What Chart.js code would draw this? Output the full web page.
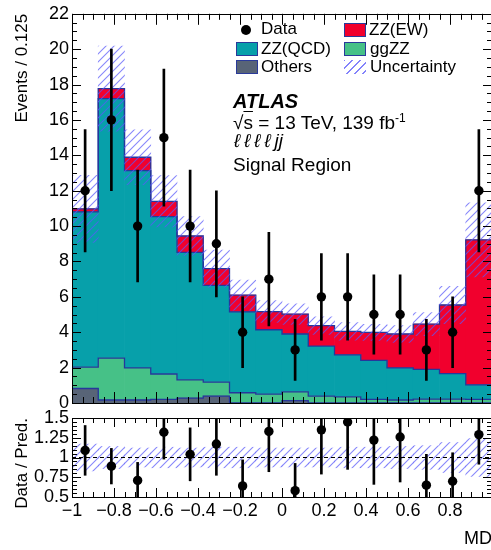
<!DOCTYPE html>
<html><head><meta charset="utf-8">
<script src="https://cdn.jsdelivr.net/npm/chart.js@4.4.1/dist/chart.umd.min.js"></script>
<style>
html,body{margin:0;padding:0;background:#fff;overflow:hidden;width:491px;height:550px;}
#wrap{position:relative;width:491px;height:550px;overflow:hidden;font-family:'Liberation Sans',Arial,Helvetica,sans-serif;color:#000;}
canvas{position:absolute;left:0;}
#c1{top:0;} #c2{top:404px;}
.t{position:absolute;white-space:nowrap;}
.lg{font-size:17px;line-height:19px;}
.box{position:absolute;width:22px;height:14px;border:1px solid #2a3a9a;box-sizing:border-box;}
.txt{font-size:19px;line-height:20px;}
</style></head>
<body><div id="wrap">
<canvas id="c1" width="500" height="420"></canvas>
<canvas id="c2" width="500" height="146"></canvas>

<div class="t" style="left:241px;top:25px;width:10px;height:10px;border-radius:50%;background:#000;"></div>
<div class="t lg" style="left:261px;top:19px;">Data</div>
<div class="box" style="left:236px;top:42px;background:#07a0aa;"></div>
<div class="t lg" style="left:261px;top:39px;">ZZ(QCD)</div>
<div class="box" style="left:236px;top:60px;background:#586477;"></div>
<div class="t lg" style="left:261px;top:57px;">Others</div>
<div class="box" style="left:344px;top:23px;background:#f1002d;"></div>
<div class="t lg" style="left:369px;top:20px;">ZZ(EW)</div>
<div class="box" style="left:344px;top:42px;background:#46c187;"></div>
<div class="t lg" style="left:370px;top:39px;">ggZZ</div>
<div class="t" style="left:344px;top:60px;width:22px;height:14px;background:repeating-linear-gradient(135deg, rgba(90,90,250,0.75) 0 1.2px, transparent 1.2px 5.6px);"></div>
<div class="t lg" style="left:370px;top:57px;">Uncertainty</div>

<div class="t" style="left:233px;top:90px;font-size:20px;line-height:22px;font-weight:bold;font-style:italic;">ATLAS</div>
<div class="t txt" style="left:233px;top:113px;">√<span style="text-decoration:overline">s</span> = 13 TeV, 139 fb<sup style="font-size:12px;vertical-align:7px;line-height:0">-1</sup></div>
<div class="t txt" style="left:234px;top:131px;font-style:italic;letter-spacing:4px;">ℓℓℓℓ<span style="letter-spacing:0">jj</span></div>
<div class="t txt" style="left:233px;top:155px;">Signal Region</div>
</div>
<script>
// ---- data ----
const binEdges   = [-1, -0.875, -0.75, -0.625, -0.5, -0.375, -0.25, -0.125, 0, 0.125, 0.25, 0.375, 0.5, 0.625, 0.75, 0.875, 1];
const binCenters = [-0.9375, -0.8125, -0.6875, -0.5625, -0.4375, -0.3125, -0.1875, -0.0625, 0.0625, 0.1875, 0.3125, 0.4375, 0.5625, 0.6875, 0.8125, 0.9375];
const others = [0.82, 0.17, 0.17, 0.20, 0.28, 0.39, 0, 0, 0.13, 0, 0, 0, 0, 0, 0, 0];
const ggZZ   = [1.21, 2.37, 1.81, 1.44, 1.03, 0.79, 0.58, 0.50, 0.50, 0.39, 0.35, 0.20, 0.17, 0.22, 0.22, 0.20];
const zzQCD  = [8.77, 14.66, 11.16, 8.89, 7.20, 5.47, 4.57, 3.64, 3.27, 2.82, 2.37, 2.21, 1.81, 1.68, 1.44, 0.83];
const zzEW   = [0.17, 0.57, 0.75, 0.87, 0.93, 0.95, 0.95, 1.03, 1.12, 1.16, 1.33, 1.58, 1.92, 2.56, 3.88, 8.19];
const predUnc = [1.9, 2.4, 1.55, 1.45, 1.1, 1.05, 0.85, 0.62, 0.58, 0.5, 0.5, 0.45, 0.48, 0.65, 1.06, 2.1];
const dataVals = [12, 16, 10, 15, 10, 9, 4, 7, 3, 6, 6, 5, 5, 3, 4, 12];
const dataErr  = [3.46, 4, 3.16, 3.87, 3.16, 3, 2, 2.65, 1.73, 2.45, 2.45, 2.24, 2.24, 1.73, 2, 3.46];
const ratioVals = [1.09, 0.89, 0.71, 1.32, 1.04, 1.17, 0.64, 1.33, 0.58, 1.35, 1.45, 1.22, 1.26, 0.65, 0.70, 1.29];
const ratioErr  = [0.315, 0.225, 0.228, 0.34, 0.335, 0.395, 0.33, 0.51, 0.345, 0.56, 0.60, 0.56, 0.57, 0.39, 0.36, 0.375];
const ratioUnc  = [0.17, 0.14, 0.12, 0.13, 0.12, 0.13, 0.13, 0.12, 0.12, 0.12, 0.13, 0.13, 0.14, 0.15, 0.19, 0.24];
const yTicksMain = {min: 0, max: 22, step: 2};
const yTicksRatio = {min: 0.5, max: 1.5, step: 0.25};
const xTicks = {min: -1, max: 1, step: 0.2};

// ---- styles ----
const COL = {others:'#586477', gg:'#46c187', qcd:'#07a0aa', ew:'#f1002d', edge:'#26379c'};
Chart.defaults.font.family = "'Liberation Sans', Arial, Helvetica, sans-serif";
Chart.defaults.color = '#000';

function hatch(){
  const c = document.createElement('canvas'); c.width = 8; c.height = 8;
  const g = c.getContext('2d');
  g.strokeStyle = 'rgba(90,90,250,0.72)'; g.lineWidth = 1.1;
  g.beginPath();
  g.moveTo(0,8); g.lineTo(8,0);
  g.moveTo(-2,2); g.lineTo(2,-2);
  g.moveTo(6,10); g.lineTo(10,6);
  g.stroke();
  return g.createPattern(c, 'repeat');
}
const HATCH = hatch();

const frameTicks = {
  id: 'frameTicks',
  afterDatasetsDraw(chart, args, o) {
    const {ctx, chartArea: a} = chart;
    const xs = chart.scales.x, ys = chart.scales.y;
    ctx.save();
    ctx.strokeStyle = '#000'; ctx.lineWidth = 1;
    ctx.beginPath();
    let n = Math.round((xs.max - xs.min) / o.xMinor);
    for (let i = 0; i <= n; i++) {
      const v = xs.min + i * o.xMinor;
      const r = (v - xs.min) / o.xMajor;
      const L = Math.abs(r - Math.round(r)) < 1e-6 ? o.xMajLen : o.xMinLen;
      const px = Math.round(xs.getPixelForValue(v)) + 0.5;
      ctx.moveTo(px, a.bottom); ctx.lineTo(px, a.bottom - L);
      ctx.moveTo(px, a.top); ctx.lineTo(px, a.top + L);
    }
    n = Math.round((ys.max - ys.min) / o.yMinor);
    for (let i = 0; i <= n; i++) {
      const v = ys.min + i * o.yMinor;
      const r = (v - ys.min) / o.yMajor;
      const L = Math.abs(r - Math.round(r)) < 1e-6 ? o.yMajLen : o.yMinLen;
      const py = Math.round(ys.getPixelForValue(v)) + 0.5;
      ctx.moveTo(a.left, py); ctx.lineTo(a.left + L, py);
      ctx.moveTo(a.right, py); ctx.lineTo(a.right - L, py);
    }
    ctx.stroke();
    ctx.strokeRect(Math.round(a.left) + 0.5, Math.round(a.top) + 0.5, Math.round(a.right - a.left), Math.round(a.bottom - a.top));
    ctx.restore();
  }
};

function fmtX(v){
  if (Math.abs(v - 1) < 1e-9) return '';
  const s = String(Number(Math.abs(v).toFixed(2)));
  return v < -1e-9 ? '\u2212' + s : s;
}
function fmtY(v){ return String(Number(Number(v).toFixed(2))); }

// ---- derived tables ----
const cum1 = others.slice();
const cum2 = cum1.map((v,i)=>v + ggZZ[i]);
const cum3 = cum2.map((v,i)=>v + zzQCD[i]);
const cum4 = cum3.map((v,i)=>v + zzEW[i]);
function stepPts(vals){
  const p = vals.map((v,i)=>({x: binEdges[i], y: v}));
  p.push({x: binEdges[binEdges.length-1], y: vals[vals.length-1]});
  return p;
}
function barPts(vals){ return binCenters.map((c,i)=>({x: c, y: vals[i]})); }
function rangePts(mid, err){ return binCenters.map((c,i)=>({x: c, y: [mid[i] - err[i], mid[i] + err[i]]})); }

const stackBar = (label, vals, color, order) => ({
  type: 'bar', label, data: barPts(vals), backgroundColor: color, borderWidth: 0,
  yAxisID: 'y', stack: 'mc', grouped: false, categoryPercentage: 1, barPercentage: 1, order
});
const outline = (vals) => ({
  type: 'line', data: stepPts(vals), stepped: 'before', borderColor: COL.edge, borderWidth: 1.3,
  pointRadius: 0, fill: false, yAxisID: 'yAux', order: 5
});

new Chart(document.getElementById('c1'), {
  type: 'bar',
  data: { datasets: [
    stackBar('Others', others, COL.others, 10),
    stackBar('ggZZ', ggZZ, COL.gg, 11),
    stackBar('ZZ(QCD)', zzQCD, COL.qcd, 12),
    stackBar('ZZ(EW)', zzEW, COL.ew, 13),
    outline(cum1), outline(cum2), outline(cum3), outline(cum4),
    { type: 'bar', label: 'Uncertainty', data: rangePts(cum4, predUnc), backgroundColor: HATCH, borderWidth: 0,
      yAxisID: 'yAux', grouped: false, categoryPercentage: 1, barPercentage: 1, order: 3 },
    { type: 'bar', label: 'err', data: rangePts(dataVals, dataErr), backgroundColor: '#000', borderWidth: 0,
      yAxisID: 'yAux', grouped: false, barThickness: 2, order: 1 },
    { type: 'scatter', label: 'Data', data: barPts(dataVals), backgroundColor: '#000', borderWidth: 0,
      pointRadius: 4.7, yAxisID: 'yAux', order: 0 }
  ]},
  options: {
    responsive: false, animation: false, devicePixelRatio: 1, events: [],
    layout: { padding: { top: 10, right: 8, bottom: 17, left: 0 } },
    plugins: { legend: { display: false }, tooltip: { enabled: false },
      frameTicks: { xMajor: 0.2, xMinor: 0.05, xMajLen: 11, xMinLen: 6, yMajor: 2, yMinor: 0.5, yMajLen: 9, yMinLen: 5 } },
    scales: {
      x: { type: 'linear', min: xTicks.min, max: xTicks.max, offset: false, display: false },
      y: { type: 'linear', stacked: true, min: yTicksMain.min, max: yTicksMain.max,
           ticks: { stepSize: yTicksMain.step, padding: 3, font: { size: 18 }, autoSkip: false, callback: fmtY },
           grid: { display: false, drawTicks: false }, border: { display: false },
           title: { display: true, text: 'Events / 0.125', align: 'end', font: { size: 17 }, padding: { top: 12, bottom: 0 } },
           afterFit(s) { s.width = 72; } },
      yAux: { type: 'linear', min: yTicksMain.min, max: yTicksMain.max, display: false, stacked: false }
    }
  },
  plugins: [frameTicks]
});

new Chart(document.getElementById('c2'), {
  type: 'bar',
  data: { datasets: [
    { type: 'bar', label: 'Uncertainty', data: rangePts(binCenters.map(()=>1), ratioUnc), backgroundColor: HATCH, borderWidth: 0,
      grouped: false, categoryPercentage: 1, barPercentage: 1, order: 3 },
    { type: 'line', data: [{x: xTicks.min, y: 1}, {x: xTicks.max, y: 1}], borderColor: '#000', borderWidth: 1,
      borderDash: [4, 3], pointRadius: 0, fill: false, order: 2 },
    { type: 'bar', label: 'err', data: rangePts(ratioVals, ratioErr), backgroundColor: '#000', borderWidth: 0,
      grouped: false, barThickness: 2, order: 1 },
    { type: 'scatter', label: 'Data', data: barPts(ratioVals), backgroundColor: '#000', borderWidth: 0,
      pointRadius: 4.7, order: 0 }
  ]},
  options: {
    responsive: false, animation: false, devicePixelRatio: 1, events: [],
    layout: { padding: { top: 14, right: 8, bottom: 0, left: 0 } },
    plugins: { legend: { display: false }, tooltip: { enabled: false },
      frameTicks: { xMajor: 0.2, xMinor: 0.05, xMajLen: 9, xMinLen: 5, yMajor: 0.25, yMinor: 0.05, yMajLen: 9, yMinLen: 5 } },
    scales: {
      x: { type: 'linear', min: xTicks.min, max: xTicks.max, offset: false,
           ticks: { stepSize: xTicks.step, padding: 3, font: { size: 18 }, maxRotation: 0, autoSkip: false, callback: fmtX },
           grid: { display: false, drawTicks: false }, border: { display: false },
           title: { display: true, text: 'MD', align: 'end', font: { size: 18 }, padding: { top: 0, bottom: 0 } },
           afterFit(s) { s.height = 53; } },
      y: { type: 'linear', min: yTicksRatio.min, max: yTicksRatio.max,
           ticks: { stepSize: yTicksRatio.step, padding: 3, font: { size: 18 }, autoSkip: false, callback: fmtY },
           grid: { display: false, drawTicks: false }, border: { display: false },
           title: { display: true, text: 'Data / Pred.', align: 'end', font: { size: 17 }, padding: { top: 12, bottom: 0 } },
           afterFit(s) { s.width = 72; } }
    }
  },
  plugins: [frameTicks]
});
</script>
</body></html>
